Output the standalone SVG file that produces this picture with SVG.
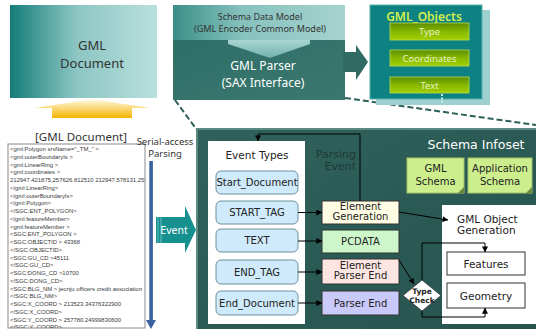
<svg xmlns="http://www.w3.org/2000/svg" width="536" height="329" viewBox="0 0 536 329">
  <defs>
    <linearGradient id="docGrad" x1="0" y1="0" x2="1" y2="0">
      <stop offset="0" stop-color="#157c79"/>
      <stop offset="0.45" stop-color="#8cc6c3"/>
      <stop offset="1" stop-color="#b9e0dd"/>
    </linearGradient>
    <linearGradient id="upGrad" x1="0" y1="0" x2="0" y2="1">
      <stop offset="0" stop-color="#fffbe6"/>
      <stop offset="1" stop-color="#f4b300"/>
    </linearGradient>
    <linearGradient id="modelGrad" x1="0" y1="0" x2="1" y2="0">
      <stop offset="0" stop-color="#3b8e88"/>
      <stop offset="0.4" stop-color="#86c2be"/>
      <stop offset="1" stop-color="#a6d3cf"/>
    </linearGradient>
    <linearGradient id="parserGrad" x1="0" y1="0" x2="1" y2="1">
      <stop offset="0" stop-color="#2e6f67"/>
      <stop offset="1" stop-color="#3b776f"/>
    </linearGradient>
    <linearGradient id="downGrad" x1="0" y1="0" x2="0" y2="1">
      <stop offset="0" stop-color="#a9d5d1"/>
      <stop offset="1" stop-color="#72b2ac"/>
    </linearGradient>
    <linearGradient id="barGrad" x1="0" y1="0" x2="0" y2="1">
      <stop offset="0" stop-color="#5c8c00"/>
      <stop offset="0.5" stop-color="#86b800"/>
      <stop offset="1" stop-color="#a2d000"/>
    </linearGradient>
    <linearGradient id="infoGrad" x1="0" y1="0" x2="1" y2="1">
      <stop offset="0" stop-color="#2f625b"/>
      <stop offset="1" stop-color="#27534e"/>
    </linearGradient>
    <marker id="ah" viewBox="0 0 8 8" refX="7.5" refY="4" markerWidth="6" markerHeight="6" orient="auto" markerUnits="userSpaceOnUse">
      <path d="M0,0 L8,4 L0,8 Z" fill="#000"/>
    </marker>
    <clipPath id="docClip">
      <rect x="8" y="144" width="137" height="184"/>
    </clipPath>
  </defs>
  <style>
    .sans { font-family: "Noto Sans", "Liberation Sans", sans-serif; }
    .dv { font-family: "DejaVu Sans", Verdana, sans-serif; }
    .evt { fill: #cfeafa; stroke: #71909f; stroke-width: 1; }
    .evtTxt { font-family: "DejaVu Sans", Verdana, sans-serif; font-size: 10px; fill: #222; text-anchor: middle; }
    .step { stroke: #333; stroke-width: 1; }
    .stepTxt { font-family: "DejaVu Sans", Verdana, sans-serif; font-size: 10px; fill: #222; text-anchor: middle; }
    .wire { fill: none; stroke: #000; stroke-width: 1; }
    .dash { fill: none; stroke: #2d5f59; stroke-width: 2; stroke-dasharray: 6 3; }
    .bar { fill: url(#barGrad); stroke: #b8dc50; stroke-width: 0.8; }
    .barTxt { font-family: "Noto Sans", "Liberation Sans", sans-serif; font-size: 9.5px; fill: #e6f2c4; text-anchor: middle; }
    .xml { font-family: "Liberation Sans", Arial, sans-serif; font-size: 5.9px; fill: #3a3a3a; }
    .schema { fill: #ccee8c; stroke: #a4c46a; stroke-width: 1; }
    .box { fill: #fff; stroke: #333; stroke-width: 1; }
  </style>

  <!-- callout lines from the parser to the infoset panel -->
  <g id="callout">
    <line class="dash" x1="175" y1="100" x2="197" y2="130"/>
    <line class="dash" x1="345" y1="98" x2="536" y2="125"/>
  </g>

  <!-- source document -->
  <g id="gml-document">
    <rect x="10" y="5" width="147" height="93" fill="url(#docGrad)"/>
    <text class="sans" x="92" y="50" font-size="13" fill="#333" text-anchor="middle">GML</text>
    <text class="sans" x="92" y="68" font-size="13" fill="#333" text-anchor="middle">Document</text>
  </g>

  <g id="upload-arrow">
    <polygon points="92,99 150,108 132,108 132,118 52,118 52,108 35,108" fill="url(#upGrad)"/>
  </g>

  <g id="doc-caption">
    <text class="sans" x="81" y="141" font-size="11.5" fill="#333" text-anchor="middle">[GML Document]</text>
  </g>

  <!-- parser block -->
  <g id="gml-parser">
    <rect x="173" y="5" width="172" height="35" fill="url(#modelGrad)"/>
    <rect x="173" y="40" width="172" height="60" fill="url(#parserGrad)"/>
    <polygon points="228,40 310,40 310,44 270,58 228,44" fill="url(#downGrad)"/>
    <text class="sans" x="260" y="20" font-size="9" fill="#333" text-anchor="middle">Schema Data Model</text>
    <text class="sans" x="260" y="32" font-size="9" fill="#333" text-anchor="middle">(GML Encoder Common Model)</text>
    <text class="sans" x="263" y="70" font-size="12" fill="#fff" text-anchor="middle">GML Parser</text>
    <text class="sans" x="263" y="87" font-size="12" fill="#fff" text-anchor="middle">(SAX Interface)</text>
    <polygon points="343,52 356,52 356,45 368,62 356,80 356,72 343,72" fill="#2f6b63"/>
  </g>

  <!-- object store -->
  <g id="gml-objects">
    <rect x="376" y="10" width="114" height="95" fill="#9fd0d0"/>
    <rect x="370" y="5" width="112" height="94" fill="#0e8282" stroke="#58aeae" stroke-width="1"/>
    <text class="sans" x="424" y="21" font-size="12" font-weight="600" fill="#d2f04e" text-anchor="middle">GML_Objects</text>
    <rect class="bar" x="390" y="23" width="79" height="17"/>
    <text class="barTxt" x="429.5" y="35">Type</text>
    <rect class="bar" x="390" y="50" width="79" height="16"/>
    <text class="barTxt" x="429.5" y="61.5">Coordinates</text>
    <rect class="bar" x="390" y="77" width="79" height="16"/>
    <text class="barTxt" x="429.5" y="88.5">Text</text>
    <line x1="442" y1="94" x2="442" y2="102" stroke="#fff" stroke-width="1.5" stroke-dasharray="2 1.5"/>
  </g>

  <!-- xml listing -->
  <g id="xml-listing">
    <rect x="8" y="144" width="137" height="184" fill="#fff" stroke="#8a8a8a" stroke-width="1"/>
    <g clip-path="url(#docClip)" class="xml">
      <text x="10" y="151">&lt;gml:Polygon srsName="_TM_" &gt;</text>
      <text x="10" y="158.8">&lt;gml:outerBoundaryIs &gt;</text>
      <text x="10" y="166.5">&lt;gml:LinearRing &gt;</text>
      <text x="10" y="174.3">&lt;gml:coordinates &gt;</text>
      <text x="10" y="182">212947.421875,257626.812510  212947.578131,257</text>
      <text x="10" y="189.8">&lt;/gml:LinearRing&gt;</text>
      <text x="10" y="197.5">&lt;/gml:outerBoundaryIs&gt;</text>
      <text x="10" y="205.3">&lt;/gml:Polygon&gt;</text>
      <text x="10" y="213">&lt;/SGC:ENT_POLYGON&gt;</text>
      <text x="10" y="220.8">&lt;/gml:featureMember&gt;</text>
      <text x="10" y="228.5">&lt;gml:featureMember &gt;</text>
      <text x="10" y="236.3">&lt;SGC:ENT_POLYGON &gt;</text>
      <text x="10" y="244">&lt;SGC:OBJECTID &gt;       43368</text>
      <text x="10" y="251.8">&lt;/SGC:OBJECTID&gt;</text>
      <text x="10" y="259.5">&lt;SGC:GU_CD &gt;45111</text>
      <text x="10" y="267.3">&lt;/SGC:GU_CD&gt;</text>
      <text x="10" y="275">&lt;SGC:DONG_CD &gt;10700</text>
      <text x="10" y="282.8">&lt;/SGC:DONG_CD&gt;</text>
      <text x="10" y="290.5">&lt;SGC:BLG_NM &gt; jeonju officers credit association</text>
      <text x="10" y="298.3">&lt;/SGC:BLG_NM&gt;</text>
      <text x="10" y="306">&lt;SGC:X_COORD &gt; 213523.34376322900</text>
      <text x="10" y="313.8">&lt;/SGC:X_COORD&gt;</text>
      <text x="10" y="321.5">&lt;SGC:Y_COORD &gt; 257780.24999830600</text>
      <text x="10" y="329.3">&lt;/SGC:Y_COORD&gt;</text>
    </g>
  </g>

  <g id="serial-parsing">
    <text class="sans" x="165" y="145" font-size="9.5" fill="#333" text-anchor="middle">Serial-access</text>
    <text class="sans" x="165" y="157" font-size="9.5" fill="#333" text-anchor="middle">Parsing</text>
    <rect x="149.3" y="161" width="3.6" height="160" fill="#3a62a0"/>
    <polygon points="146,320 156,320 151,329" fill="#3a62a0"/>
  </g>

  <g id="event-arrow">
    <polygon points="156,217 185,217 185,206 196,230 185,253 185,243 156,243" fill="#179090"/>
    <line x1="158" y1="217" x2="158" y2="243" stroke="#7cc8c8" stroke-width="0.8"/>
    <line x1="161" y1="217" x2="161" y2="243" stroke="#7cc8c8" stroke-width="0.8"/>
    <text class="sans" x="174" y="234" font-size="10.5" fill="#fff" text-anchor="middle">Event</text>
  </g>

  <!-- infoset panel -->
  <g id="infoset-panel">
    <rect x="197" y="129" width="341" height="202" fill="url(#infoGrad)" stroke="#5c8a82" stroke-width="2"/>
    <text class="dv" x="476" y="149" font-size="12.5" fill="#fff" text-anchor="middle">Schema Infoset</text>
  </g>

  <g id="event-types">
    <rect x="208" y="141" width="97" height="183" fill="#fff"/>
    <text class="dv" x="257" y="159" font-size="10.5" fill="#222" text-anchor="middle">Event Types</text>
  </g>
  <g id="start-document">
    <rect class="evt" x="216" y="171" width="82" height="23" rx="5"/>
    <text class="evtTxt" x="257" y="186">Start_Document</text>
  </g>
  <g id="start-tag">
    <rect class="evt" x="216" y="201" width="82" height="23" rx="5"/>
    <text class="evtTxt" x="257" y="216">START_TAG</text>
  </g>
  <g id="text-event">
    <rect class="evt" x="216" y="229" width="82" height="23" rx="5"/>
    <text class="evtTxt" x="257" y="244">TEXT</text>
  </g>
  <g id="end-tag">
    <rect class="evt" x="216" y="260" width="82" height="24" rx="5"/>
    <text class="evtTxt" x="257" y="275.5">END_TAG</text>
  </g>
  <g id="end-document">
    <rect class="evt" x="216" y="291" width="82" height="24" rx="5"/>
    <text class="evtTxt" x="257" y="306.5">End_Document</text>
  </g>

  <g id="element-generation">
    <rect class="step" x="322" y="201" width="77" height="23" fill="#fffde3"/>
    <text class="stepTxt" x="360.5" y="210">Element</text>
    <text class="stepTxt" x="360.5" y="219.5">Generation</text>
  </g>
  <g id="pcdata">
    <rect class="step" x="322" y="230" width="77" height="23" fill="#cdf7cb"/>
    <text class="stepTxt" x="360.5" y="245">PCDATA</text>
  </g>
  <g id="element-parser-end">
    <rect class="step" x="322" y="259" width="77" height="25" fill="#fde6e2"/>
    <text class="stepTxt" x="360.5" y="269">Element</text>
    <text class="stepTxt" x="360.5" y="278.5">Parser End</text>
  </g>
  <g id="parser-end">
    <rect class="step" x="322" y="291" width="77" height="24" fill="#cacafa"/>
    <text class="stepTxt" x="360.5" y="306.5">Parser End</text>
  </g>

  <g id="gml-schema">
    <rect class="schema" x="407" y="158" width="57" height="35"/>
    <polygon points="464,187 464,193 458,193" fill="#6a8a40"/>
    <text class="dv" x="435.5" y="171.5" font-size="10" fill="#222" text-anchor="middle">GML</text>
    <text class="dv" x="435.5" y="185" font-size="10" fill="#222" text-anchor="middle">Schema</text>
  </g>
  <g id="application-schema">
    <rect class="schema" x="468" y="158" width="64" height="35"/>
    <polygon points="532,187 532,193 526,193" fill="#6a8a40"/>
    <text class="dv" x="500" y="171.5" font-size="10" fill="#222" text-anchor="middle">Application</text>
    <text class="dv" x="500" y="185" font-size="10" fill="#222" text-anchor="middle">Schema</text>
  </g>

  <g id="object-generation">
    <rect x="442" y="205" width="94" height="119" fill="#fff"/>
    <text class="dv" x="457" y="223" font-size="10.5" fill="#222">GML Object</text>
    <text class="dv" x="457" y="234" font-size="10.5" fill="#222">Generation</text>
  </g>
  <g id="features">
    <rect class="box" x="447" y="252" width="78" height="23"/>
    <text class="dv" x="486" y="267.5" font-size="10.5" fill="#222" text-anchor="middle">Features</text>
  </g>
  <g id="geometry">
    <rect class="box" x="447" y="283" width="78" height="25"/>
    <text class="dv" x="486" y="299.5" font-size="10.5" fill="#222" text-anchor="middle">Geometry</text>
  </g>

  <g id="type-check">
    <polygon points="422,280 441,295.5 422,311 403,295.5" fill="#fff" stroke="#333" stroke-width="0.8"/>
    <text class="dv" x="422" y="294" font-size="7.5" font-weight="bold" fill="#222" text-anchor="middle">Type</text>
    <text class="dv" x="422" y="302.5" font-size="7.5" font-weight="bold" fill="#222" text-anchor="middle">Check</text>
  </g>

  <!-- connectors -->
  <g id="connectors">
    <polyline class="wire" points="360,201 360,134 258,134 258,141" marker-end="url(#ah)"/>
    <text class="dv" x="356" y="158" font-size="11" fill="#1e3a37" text-anchor="end">Parsing</text>
    <text class="dv" x="356" y="170" font-size="11" fill="#1e3a37" text-anchor="end">Event</text>
    <line class="wire" x1="298" y1="212.5" x2="322" y2="212.5" marker-end="url(#ah)"/>
    <line class="wire" x1="298" y1="241" x2="322" y2="241" marker-end="url(#ah)"/>
    <line class="wire" x1="298" y1="272" x2="322" y2="272" marker-end="url(#ah)"/>
    <line class="wire" x1="298" y1="303" x2="322" y2="303" marker-end="url(#ah)"/>
    <line class="wire" x1="399" y1="212" x2="448" y2="220" marker-end="url(#ah)"/>
    <line class="wire" x1="399" y1="260" x2="414" y2="284" marker-end="url(#ah)"/>
    <polyline class="wire" points="422,280 422,243 485,243 485,252" marker-end="url(#ah)"/>
    <polyline class="wire" points="422,311 422,317 485,317 485,308" marker-end="url(#ah)"/>
  </g>
</svg>
